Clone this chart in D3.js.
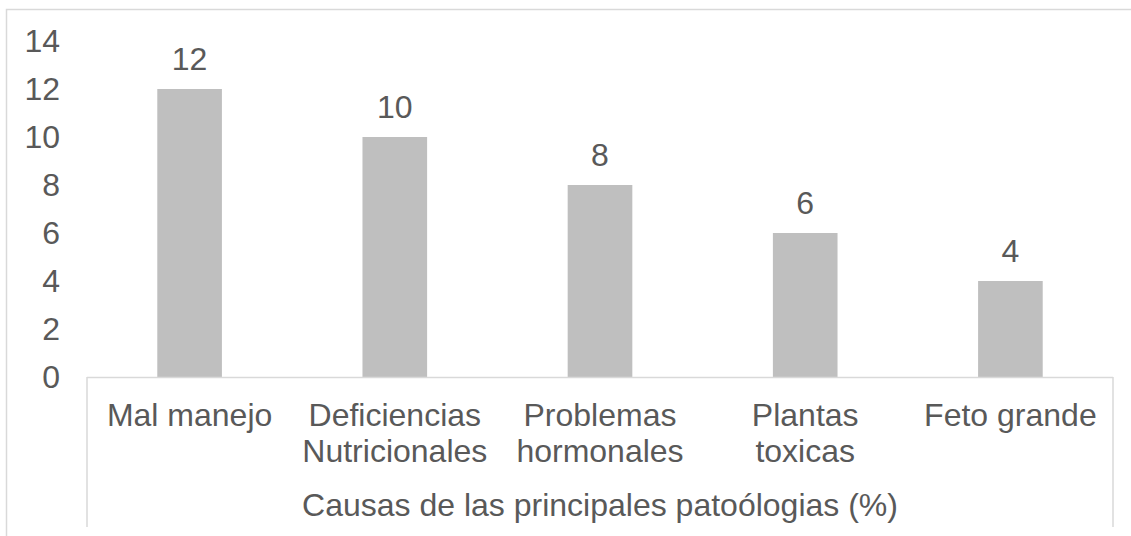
<!DOCTYPE html>
<html>
<head>
<meta charset="utf-8">
<script src="https://cdn.jsdelivr.net/npm/d3@7"></script>
<style>
  html, body { margin: 0; padding: 0; background: #fff; }
  svg { display: block; }
</style>
</head>
<body>
<svg id="chart" width="1131" height="536"></svg>
<script>
// data
const categories = ['Mal manejo', 'Deficiencias Nutricionales', 'Problemas hormonales', 'Plantas toxicas', 'Feto grande'];
const catLines = [['Mal manejo'], ['Deficiencias', 'Nutricionales'], ['Problemas', 'hormonales'], ['Plantas', 'toxicas'], ['Feto grande']];
const values = [12, 10, 8, 6, 4];
const yTicks = [0, 2, 4, 6, 8, 10, 12, 14];
const xTitle = 'Causas de las principales patoólogias (%)';

const W = 1131, H = 536;
const FONT = "'Liberation Sans', Arial, sans-serif";
const TXT = '#595959', LINE = '#d9d9d9', BAR = '#bfbfbf';

const plot = { left: 87, right: 1113, top: 41, bottom: 377 };

const svg = d3.select('#chart');

// outer chart border (right and bottom run past the picture edge)
svg.append('rect')
  .attr('x', 6.5).attr('y', 9.5)
  .attr('width', W + 20).attr('height', H + 20)
  .attr('fill', 'none').attr('stroke', LINE).attr('stroke-width', 1.5);

const x = d3.scaleBand().domain(categories).range([plot.left, plot.right]).paddingInner(0.685).paddingOuter(0.3425);
const band = d3.scaleBand().domain(categories).range([plot.left, plot.right]);
const y = d3.scaleLinear().domain([0, 14]).range([plot.bottom, plot.top]);

// y tick labels, no axis line
svg.append('g').selectAll('text').data(yTicks).join('text')
  .attr('x', 60).attr('y', d => y(d)).attr('dy', '0.35em')
  .attr('text-anchor', 'end')
  .attr('font-family', FONT).attr('font-size', 32).attr('fill', TXT)
  .text(d => d);

// bars
svg.append('g').selectAll('rect').data(values).join('rect')
  .attr('x', (d, i) => x(categories[i]))
  .attr('y', d => y(d))
  .attr('width', x.bandwidth())
  .attr('height', d => y(0) - y(d))
  .attr('fill', BAR);

// value labels
svg.append('g').selectAll('text').data(values).join('text')
  .attr('x', (d, i) => band(categories[i]) + band.bandwidth() / 2)
  .attr('y', d => y(d) - 19)
  .attr('text-anchor', 'middle')
  .attr('font-family', FONT).attr('font-size', 32).attr('fill', TXT)
  .text(d => d);

// category box: axis line + side walls
const g = svg.append('g').attr('fill', 'none').attr('stroke', LINE).attr('stroke-width', 1.5);
g.append('line').attr('x1', plot.left).attr('x2', plot.right).attr('y1', y(0) + 0.5).attr('y2', y(0) + 0.5);
g.append('line').attr('x1', plot.left).attr('x2', plot.left).attr('y1', y(0)).attr('y2', 527);
g.append('line').attr('x1', plot.right).attr('x2', plot.right).attr('y1', y(0)).attr('y2', 527);

// category labels
const cat = svg.append('g').selectAll('text').data(categories).join('text')
  .attr('text-anchor', 'middle')
  .attr('font-family', FONT).attr('font-size', 32).attr('fill', TXT);
cat.each(function(d, i) {
  const cx = band(d) + band.bandwidth() / 2;
  d3.select(this).selectAll('tspan').data(catLines[i]).join('tspan')
    .attr('x', cx)
    .attr('y', (l, j) => 426 + j * 36)
    .text(l => l);
});

// axis title
svg.append('text')
  .attr('x', (plot.left + plot.right) / 2).attr('y', 516)
  .attr('text-anchor', 'middle')
  .attr('font-family', FONT).attr('font-size', 32).attr('fill', TXT)
  .text(xTitle);
</script>
</body>
</html>
